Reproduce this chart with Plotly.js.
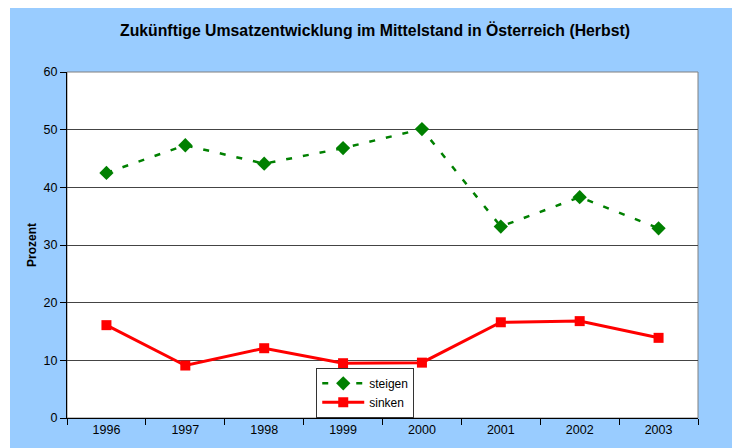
<!DOCTYPE html>
<html>
<head>
<meta charset="utf-8">
<script src="https://cdn.plot.ly/plotly-3.0.1.min.js"></script>
<style>
html,body{margin:0;padding:0;background:#ffffff;width:732px;height:448px;overflow:hidden;}
#chart{position:absolute;left:10px;top:8px;width:722px;height:440px;}
</style>
</head>
<body>
<div id="chart"></div>
<script>
var years = ["1996","1997","1998","1999","2000","2001","2002","2003"];
var steigen = [42.5, 47.3, 44.1, 46.8, 50.1, 33.2, 38.3, 32.9];
var sinken = [16.1, 9.1, 12.1, 9.5, 9.6, 16.6, 16.8, 13.9];
var yTicks = [0, 10, 20, 30, 40, 50, 60];

var font = "Liberation Sans, Arial, sans-serif";

var traces = [
  {
    x: years, y: steigen, name: "steigen", type: "scatter", mode: "lines+markers",
    line: {color: "#008000", width: 2.5, dash: "6px,11px"},
    marker: {symbol: "diamond", size: 11, color: "#008000"}
  },
  {
    x: years, y: sinken, name: "sinken", type: "scatter", mode: "lines+markers",
    line: {color: "#FF0000", width: 3},
    marker: {symbol: "square", size: 10, color: "#FF0000"}
  }
];

var layout = {
  width: 722, height: 440,
  paper_bgcolor: "#99CCFF",
  plot_bgcolor: "#FFFFFF",
  margin: {l: 57, r: 34, t: 64, b: 30, pad: 0},
  font: {family: font, size: 12, color: "#000"},
  title: {
    text: "<b>Zukünftige Umsatzentwicklung im Mittelstand in Österreich (Herbst)</b>",
    font: {family: font, size: 15.8, color: "#000"},
    xref: "container", x: 0.5055, xanchor: "center",
    yref: "container", y: 0.948, yanchor: "middle"
  },
  xaxis: {
    type: "category",
    range: [-0.5, 7.5],
    tickson: "boundaries",
    ticks: "outside", ticklen: 6, tickcolor: "#000", tickwidth: 1,
    showline: true, linecolor: "#000", linewidth: 1,
    showgrid: false, zeroline: false,
    tickfont: {family: font, size: 12.5, color: "#000"},
    fixedrange: true
  },
  yaxis: {
    range: [0, 60],
    tickvals: yTicks,
    ticktext: yTicks.map(String),
    ticks: "outside", ticklen: 6, tickcolor: "#000", tickwidth: 1,
    showline: true, linecolor: "#000", linewidth: 1,
    showgrid: true, gridcolor: "#444", gridwidth: 1,
    zeroline: false,
    tickfont: {family: font, size: 12.5, color: "#000"},
    fixedrange: true
  },
  shapes: [
    {type: "rect", xref: "paper", yref: "paper", x0: 0, x1: 1, y0: 0, y1: 1,
     line: {color: "#808080", width: 1}, fillcolor: "rgba(0,0,0,0)", layer: "below"}
  ],
  annotations: [
    {text: "<b>Prozent</b>", xref: "paper", yref: "paper", x: -0.0555, y: 0.5,
     xanchor: "center", yanchor: "middle", textangle: -90, showarrow: false,
     font: {family: font, size: 12, color: "#000"}}
  ],
  showlegend: true,
  legend: {
    x: 0.395, y: 0.145, xanchor: "left", yanchor: "top",
    bgcolor: "#FFFFFF", bordercolor: "#333", borderwidth: 1,
    font: {family: font, size: 12, color: "#000"},
    tracegroupgap: 0, itemwidth: 42, entrywidth: 110
  }
};

Plotly.newPlot("chart", traces, layout, {displayModeBar: false, staticPlot: true});
</script>
</body>
</html>
